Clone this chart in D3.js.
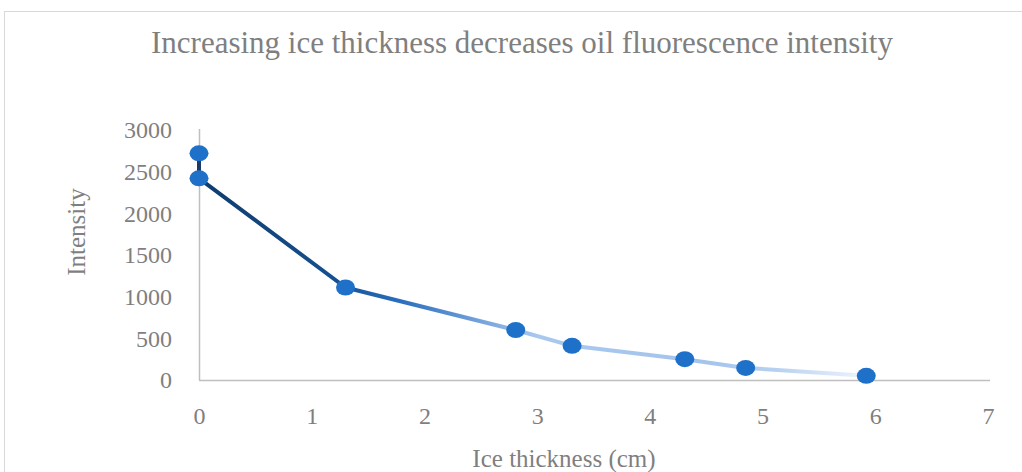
<!DOCTYPE html>
<html>
<head>
<meta charset="utf-8">
<script src="https://cdn.jsdelivr.net/npm/d3@7"></script>
<style>
  html, body { margin: 0; padding: 0; background: #fff; }
  svg { display: block; }
  text { font-family: "Liberation Serif", "Times New Roman", serif; fill: #7f7f7f; }
</style>
</head>
<body>
<svg id="chart" width="1022" height="472"></svg>
<script>
// Ice thickness (cm) and measured fluorescence intensity
const thickness = [0, 0, 1.3, 2.81, 3.31, 4.31, 4.85, 5.92];
const intensity = [2720, 2420, 1110, 600, 410, 250, 145, 50];
const xTicks = [0, 1, 2, 3, 4, 5, 6, 7];
const yTicks = [0, 500, 1000, 1500, 2000, 2500, 3000];

const svg = d3.select("#chart");
const W = 1022, H = 472;
const m = { left: 199, right: 990, top: 130, bottom: 380 };

// outer frame
svg.append("rect")
  .attr("x", 4.5).attr("y", 11.5)
  .attr("width", W + 20).attr("height", H + 20)
  .attr("fill", "none").attr("stroke", "#d9d9d9").attr("stroke-width", 1);

const x = d3.scaleLinear().domain([0, 7]).range([m.left, m.right - 2]);
const y = d3.scaleLinear().domain([0, 3000]).range([m.bottom, m.top]);

// title
svg.append("text")
  .attr("x", 522).attr("y", 53)
  .attr("text-anchor", "middle")
  .style("font-size", "31px")
  .text("Increasing ice thickness decreases oil fluorescence intensity");

// x axis
const gx = svg.append("g").attr("transform", `translate(0,${m.bottom})`)
  .call(d3.axisBottom(x).tickValues(xTicks).tickSize(0).tickPadding(27).tickFormat(d3.format("d")));
gx.select(".domain").attr("stroke", "#bfbfbf").attr("stroke-width", 1.5)
  .attr("d", `M${m.left},0.5H${m.right}`);
gx.selectAll("text").style("font-size", "24px").attr("fill", "#7f7f7f")
  .style("font-family", "'Liberation Serif', serif");

// y axis
const gy = svg.append("g").attr("transform", `translate(${m.left},0)`)
  .call(d3.axisLeft(y).tickValues(yTicks).tickSize(0).tickPadding(27).tickFormat(d3.format("d")));
gy.select(".domain").attr("stroke", "#bfbfbf").attr("stroke-width", 1.5)
  .attr("d", `M0.5,${y(3000) - 1}V${m.bottom}`);
gy.selectAll("text").style("font-size", "24px").attr("fill", "#7f7f7f")
  .style("font-family", "'Liberation Serif', serif");

// axis titles
svg.append("text")
  .attr("transform", `translate(85,232) rotate(-90)`)
  .attr("text-anchor", "middle")
  .style("font-size", "25px")
  .text("Intensity");

svg.append("text")
  .attr("x", 564).attr("y", 467)
  .attr("text-anchor", "middle")
  .style("font-size", "25px")
  .text("Ice thickness (cm)");

// line with a fading blue gradient along x
const defs = svg.append("defs");
const grad = defs.append("linearGradient")
  .attr("id", "lineGrad")
  .attr("gradientUnits", "userSpaceOnUse")
  .attr("x1", x(0)).attr("x2", x(6)).attr("y1", 0).attr("y2", 0);
[
  [0, "#0e3c6e"],
  [0.2, "#15508f"],
  [0.3, "#2b6fc0"],
  [0.5, "#a9c8ee"],
  [0.75, "#a4c4ec"],
  [0.85, "#b6d0f0"],
  [1, "#f4f8fe"]
].forEach(([o, c]) => grad.append("stop").attr("offset", o).attr("stop-color", c));

const pts = thickness.map((t, i) => [t, intensity[i]]);
svg.append("path")
  .datum(pts)
  .attr("fill", "none")
  .attr("stroke", "url(#lineGrad)")
  .attr("stroke-width", 4)
  .attr("stroke-linejoin", "round")
  .attr("d", d3.line().x(d => x(d[0])).y(d => y(d[1])));

// navy segment between the two zero-thickness readings
svg.append("line")
  .attr("x1", x(0)).attr("x2", x(0))
  .attr("y1", y(intensity[0])).attr("y2", y(intensity[1]))
  .attr("stroke", "#1b3a68").attr("stroke-width", 4);

// markers
svg.selectAll("ellipse.pt")
  .data(pts)
  .join("ellipse")
  .attr("class", "pt")
  .attr("cx", d => x(d[0])).attr("cy", d => y(d[1]))
  .attr("rx", 9.5).attr("ry", 8)
  .attr("fill", "#1f70c9");
</script>
</body>
</html>
